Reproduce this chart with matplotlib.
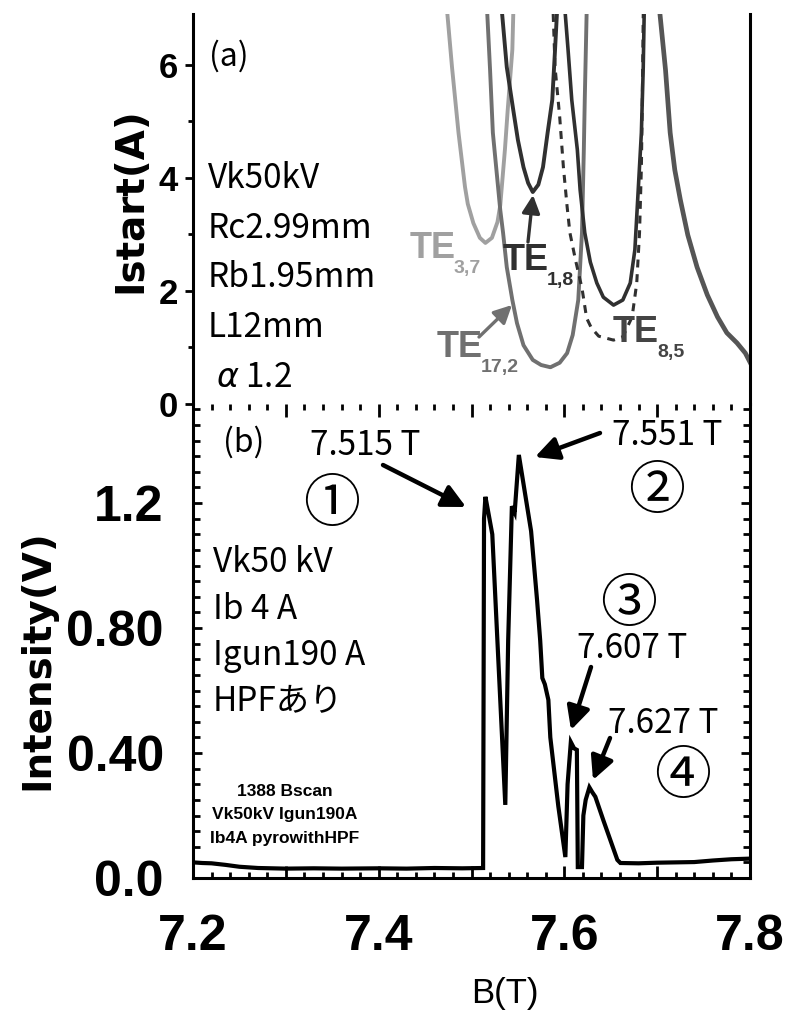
import numpy as np
import matplotlib
matplotlib.use("Agg")
import matplotlib.pyplot as plt
from matplotlib.text import Annotation
from matplotlib.patches import FancyArrowPatch
from matplotlib.ticker import FixedLocator, FixedFormatter, MultipleLocator

# ---------------- data ----------------
# (a) start-current curves, B (T) vs Istart (A)
te37_b = [7.474, 7.479, 7.486, 7.493, 7.496, 7.502, 7.509, 7.515, 7.522, 7.528, 7.531, 7.536, 7.539, 7.544, 7.545]
te37_i = [6.90, 5.96, 4.80, 3.84, 3.54, 3.20, 2.94, 2.85, 2.94, 3.22, 3.52, 4.50, 5.20, 6.27, 6.90]

te172_b = [7.517, 7.520, 7.523, 7.531, 7.534, 7.538, 7.544, 7.549, 7.556, 7.566, 7.575, 7.585, 7.595,
           7.603, 7.609, 7.615, 7.619, 7.621, 7.622, 7.624]
te172_i = [6.90, 5.91, 4.80, 3.43, 3.03, 2.42, 1.84, 1.43, 1.04, 0.78, 0.69, 0.65, 0.73,
           0.90, 1.22, 1.84, 3.03, 4.50, 5.38, 6.90]

te18_b = [7.533, 7.538, 7.545, 7.550, 7.556, 7.561, 7.566, 7.572, 7.577, 7.582, 7.587, 7.590, 7.592]
te18_i = [6.90, 5.96, 5.20, 4.67, 4.19, 3.91, 3.75, 3.88, 4.19, 4.80, 5.38, 6.27, 6.90]

te85_b = [7.601, 7.604, 7.608, 7.614, 7.617, 7.622, 7.628, 7.635, 7.642, 7.653, 7.663, 7.671, 7.676,
          7.679, 7.683, 7.685, 7.686]
te85_i = [6.90, 6.27, 5.38, 4.50, 3.79, 3.03, 2.51, 2.14, 1.89, 1.75, 1.84, 2.14, 2.73,
          3.61, 4.80, 5.96, 6.90]

te85d_b = [7.588, 7.590, 7.595, 7.599, 7.603, 7.606, 7.612, 7.619, 7.624, 7.629, 7.637, 7.653, 7.663,
           7.673, 7.678, 7.681, 7.683, 7.684, 7.685]
te85d_i = [6.90, 5.96, 5.08, 4.19, 3.49, 3.03, 2.55, 2.05, 1.52, 1.35, 1.20, 1.13, 1.19,
           1.54, 2.14, 3.03, 4.19, 5.38, 6.90]

hi_b = [7.703, 7.709, 7.714, 7.719, 7.725, 7.733, 7.743, 7.754, 7.765, 7.775, 7.786, 7.795, 7.800]
hi_i = [6.90, 5.91, 4.80, 4.14, 3.61, 2.99, 2.42, 1.93, 1.54, 1.26, 1.08, 0.90, 0.74]

# (b) measured output intensity, B (T) vs intensity (V)
b_field = [7.200, 7.210, 7.220, 7.235, 7.250, 7.270, 7.300, 7.330, 7.360, 7.400, 7.430, 7.460, 7.490,
           7.5125, 7.5135, 7.515, 7.5175, 7.5224, 7.5364, 7.5395, 7.5435, 7.5465, 7.551, 7.5642,
           7.5706, 7.574, 7.5763, 7.579, 7.5828, 7.5849, 7.5935, 7.6011, 7.6035, 7.607, 7.6105,
           7.6135, 7.6145, 7.619, 7.6205, 7.623, 7.627, 7.630, 7.6334, 7.642, 7.6571, 7.6604,
           7.680, 7.700, 7.720, 7.740, 7.760, 7.780, 7.800]
intensity = [0.050, 0.048, 0.047, 0.042, 0.036, 0.032, 0.030, 0.031, 0.030, 0.031, 0.030, 0.032, 0.031,
             0.032, 1.150, 1.220, 1.180, 1.100, 0.234, 0.760, 1.190, 1.170, 1.354, 1.110,
             0.890, 0.760, 0.640, 0.620, 0.570, 0.450, 0.230, 0.067, 0.300, 0.435, 0.415,
             0.410, 0.035, 0.035, 0.200, 0.250, 0.290, 0.275, 0.260, 0.185, 0.058, 0.048,
             0.047, 0.049, 0.050, 0.051, 0.056, 0.060, 0.062]

peak_labels = ["7.515 T", "7.551 T", "7.607 T", "7.627 T"]

top_yticks = [0, 2, 4, 6]
bot_yticks = [0.0, 0.4, 0.8, 1.2]
bot_yticklabels = ["0.0", "0.40", "0.80", "1.2"]
xticks = [7.2, 7.3, 7.4, 7.5, 7.6, 7.7, 7.8]
xticklabels = ["7.2", "", "7.4", "", "7.6", "", "7.8"]

params_a = ["Vk50kV", "Rc2.99mm", "Rb1.95mm", "L12mm", r"$\alpha$ 1.2"]
params_b = ["Vk50 kV", "Ib 4 A", "Igun190 A", "HPFあり"]
run_note = ["1388 Bscan", "Vk50kV Igun190A", "Ib4A pyrowithHPF"]

# ---------------- figure ----------------
W, H = 787, 1017
fig = plt.figure(figsize=(W / 100, H / 100), dpi=100)


def fpos(px, py):
    return (px / W, 1 - py / H)


JP = ["Noto Sans CJK JP", "DejaVu Sans"]
NUM = ["Liberation Sans", "DejaVu Sans"]

ax_top = fig.add_axes([193 / W, 1 - 404 / H, 557 / W, 390 / H])
ax_bot = fig.add_axes([193 / W, 1 - 878 / H, 557 / W, 474 / H])

for ax in (ax_top, ax_bot):
    ax.set_xlim(7.2, 7.8)
    ax.patch.set_alpha(0)
    for s in ax.spines.values():
        s.set_linewidth(2.2)
ax_top.set_ylim(0, 6.9)
ax_bot.set_ylim(0, 1.517)

# ---- panel (a) ----
ax_top.plot(te37_b, te37_i, color="#a0a0a0", lw=2.8, solid_joinstyle="round")
ax_top.plot(te172_b, te172_i, color="#707070", lw=2.8, solid_joinstyle="round")
ax_top.plot(te18_b, te18_i, color="#303030", lw=2.8, solid_joinstyle="round")
ax_top.plot(te85d_b, te85d_i, color="#303030", lw=2.2, linestyle=(0, (2.6, 2.2)))
ax_top.plot(te85_b, te85_i, color="#303030", lw=2.6, solid_joinstyle="round")
ax_top.plot(hi_b, hi_i, color="#555555", lw=3.4, solid_joinstyle="round")

ax_top.spines["top"].set_visible(False)
ax_top.spines["bottom"].set_visible(False)
ax_top.tick_params(axis="x", which="both", bottom=False, top=False, labelbottom=False)
ax_top.yaxis.set_major_locator(FixedLocator(top_yticks))
ax_top.yaxis.set_minor_locator(FixedLocator([1, 3, 5]))
ax_top.tick_params(axis="y", which="major", direction="out", length=6, width=2, pad=5,
                   left=True, right=False)
ax_top.tick_params(axis="y", which="minor", direction="out", length=3.5, width=2,
                   left=True, right=False)
for lab in ax_top.get_yticklabels():
    lab.set_fontfamily(NUM)
    lab.set_fontweight("bold")
    lab.set_fontsize(25)

# ---- panel (b) ----
ax_bot.plot(b_field, intensity, color="black", lw=3.0, solid_joinstyle="miter")

ax_bot.spines["top"].set_visible(False)
ax_bot.xaxis.set_major_locator(FixedLocator(xticks))
ax_bot.xaxis.set_major_formatter(FixedFormatter(xticklabels))
ax_bot.xaxis.set_minor_locator(MultipleLocator(0.02))
ax_bot.tick_params(axis="x", which="major", direction="in", length=9, width=2,
                   top=True, bottom=True, pad=26)
ax_bot.tick_params(axis="x", which="minor", direction="in", length=4.5, width=2,
                   top=True, bottom=True)
ax_bot.yaxis.set_major_locator(FixedLocator(bot_yticks))
ax_bot.yaxis.set_major_formatter(FixedFormatter(bot_yticklabels))
ax_bot.yaxis.set_minor_locator(MultipleLocator(0.05))
ax_bot.tick_params(axis="y", which="major", direction="in", length=6.5, width=2,
                   left=True, right=True, pad=21)
ax_bot.tick_params(axis="y", which="minor", direction="in", length=5, width=2,
                   left=True, right=True)
for lab in ax_bot.get_xticklabels():
    lab.set_fontfamily(NUM)
    lab.set_fontweight("bold")
    lab.set_fontsize(36)
for lab in ax_bot.get_yticklabels():
    lab.set_fontfamily(NUM)
    lab.set_fontweight("bold")
    lab.set_fontsize(36)

# ---- axis titles ----
fig.text(*fpos(130, 200), "Istart(A)", rotation=90, ha="center", va="center",
         fontsize=28, fontweight="bold", family="DejaVu Sans")
fig.text(*fpos(37, 660), "Intensity(V)", rotation=90, ha="center", va="center",
         fontsize=28, fontweight="bold", family="DejaVu Sans")
fig.text(*fpos(505, 993), "B(T)", ha="center", va="center", fontsize=25, family=NUM)

# ---- panel (a) annotations ----
fig.text(*fpos(209, 66), "(a)", fontsize=23, family=JP, va="baseline")
for txt, base in zip(params_a, [188, 238, 287, 337, 387]):
    xoff = 216 if txt.startswith("$") else 208
    fig.text(*fpos(xoff, base), txt, fontsize=24, family=JP, va="baseline")


def te_label(px, base, sub, color):
    main = fig.text(*fpos(px, base), "TE", fontsize=26, fontweight="bold", family=NUM,
                    color=color, va="baseline")
    fig.add_artist(Annotation(
        sub, xy=(1.0, 0.0), xycoords=main, xytext=(-1.5, -5), textcoords="offset points",
        fontsize=14, fontweight="bold", family=NUM, color=color, va="baseline", ha="left"))


te_label(410, 258, "3,7", "#a0a0a0")
te_label(503, 270, "1,8", "#303030")
te_label(437, 357, "17,2", "#707070")
te_label(613, 342, "8,5", "#444444")

fig.add_artist(FancyArrowPatch(
    fpos(479, 337), fpos(512, 305), transform=fig.transFigure,
    arrowstyle="-|>,head_length=0.6,head_width=0.3", mutation_scale=18,
    lw=2.4, color="#707070", shrinkA=0, shrinkB=0))
fig.add_artist(FancyArrowPatch(
    fpos(528, 242), fpos(533, 195), transform=fig.transFigure,
    arrowstyle="-|>,head_length=0.6,head_width=0.3", mutation_scale=18,
    lw=2.4, color="#303030", shrinkA=0, shrinkB=0))

# ---- panel (b) annotations ----
fig.text(*fpos(223, 452), "(b)", fontsize=23, family=JP, va="baseline")
for txt, base in zip(params_b, [572, 619, 665, 711]):
    fig.text(*fpos(213, base), txt, fontsize=24, family=JP, va="baseline")

label_pos = [(310, 455), (612, 445), (577, 658), (608, 733)]
for txt, (px, base) in zip(peak_labels, label_pos):
    fig.text(*fpos(px, base), txt, fontsize=24, family=JP, va="baseline")

arrows = [((383, 465), (466, 507)), ((600, 433), (535, 457)),
          ((591, 667), (571, 730)), ((610, 738), (593, 780))]
for start, tip in arrows:
    fig.add_artist(FancyArrowPatch(
        fpos(*start), fpos(*tip), transform=fig.transFigure,
        arrowstyle="-|>,head_length=0.7,head_width=0.35", mutation_scale=20,
        lw=3.2, color="black", shrinkA=0, shrinkB=0))

for sym, (px, py) in zip(["①", "②", "③", "④"],
                         [(332, 505), (657, 492), (629, 605), (683, 777)]):
    fig.text(*fpos(px, py), sym, fontsize=41, family=JP, ha="center", va="center")

for txt, py in zip(run_note, [791, 815, 838]):
    fig.text(*fpos(285, py), txt, fontsize=12.5, fontweight="bold", family=NUM,
             ha="center", va="center")

fig.savefig("out.png", dpi=100)
